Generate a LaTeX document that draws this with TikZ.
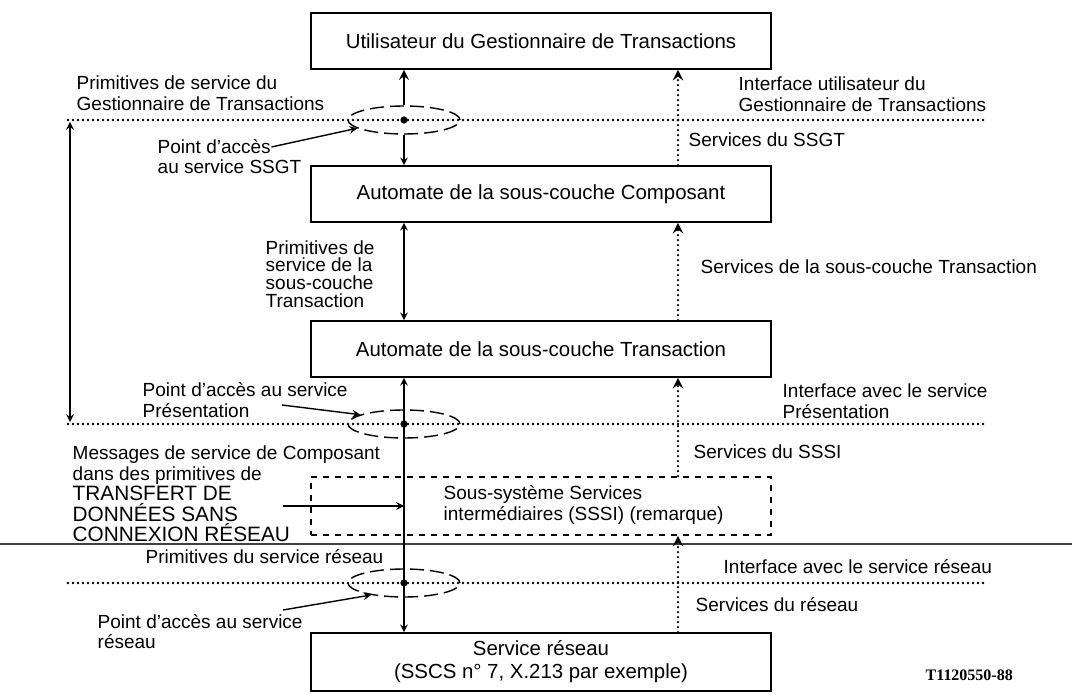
\documentclass[tikz,border=0pt]{standalone}
\usepackage{fontspec}
\setmainfont{Liberation Sans}
\newfontfamily\tagfont{Liberation Serif}
\usetikzlibrary{shapes}
\usetikzlibrary{calc}
\usepgflibrary{arrows}

\begin{document}
\begin{tikzpicture}[x=0.5pt, y=-0.5pt, >=stealth, line width=.7pt,
  layer/.style={draw, line width=.9pt, minimum width=230pt, minimum height=28pt, inner sep=0pt, align=center, font=\fontsize{10.2}{11.5}\selectfont},
  sap/.style={draw, ellipse, dash pattern=on 7pt off 3pt, minimum width=56pt, minimum height=14pt, inner sep=0pt},
  spot/.style={inner sep=.45mm, fill=black, circle},
  lbl/.style={anchor=west, inner sep=0pt, align=left, font=\fontsize{9.5}{10.3}\selectfont},
  iface/.style={line width=1.4pt, line cap=round, dash pattern=on 0pt off 2.5pt},
  svc/.style={->, line width=1.3pt, line cap=round, dash pattern=on 0pt off 2.5pt}]
\useasboundingbox (0,0) rectangle (1072,695);
\node[layer] (tgu) at (541,41) {Utilisateur du Gestionnaire de Transactions};
\node[layer] (comp) at (541,194) {Automate de la sous-couche Composant};
\node[layer] (trans) at (541,349) {Automate de la sous-couche Transaction};
\node[layer, dashed, minimum height=29pt] (sssi) at (541,506) {};
\node[layer, minimum height=29pt] (net) at (541,662) {Service réseau\\(SSCS n° 7, X.213 par exemple)};
\node[sap] (sap1) at (404,120) {};
\node[sap] (sap2) at (404,424) {};
\node[sap] (sap3) at (404,583) {};
\node[spot] (dot1) at (sap1) {};
\node[spot] (dot2) at (sap2) {};
\node[spot] (dot3) at (sap3) {};
\coordinate (i1w) at (68,120);
\coordinate (i1e) at (987,120);
\coordinate (i2w) at (68,424);
\coordinate (i2e) at (987,424);
\coordinate (i3w) at (68,583);
\coordinate (i3e) at (987,583);
\coordinate (sepw) at (0,544);
\coordinate (sepe) at (1072,544);
\coordinate (rx) at (678,0);
\coordinate (lt) at (70,122);
\coordinate (lb) at (70,422);
\draw[iface] (i1w) -- (i1e);
\draw[iface] (i2w) -- (i2e);
\draw[iface] (i3w) -- (i3e);
\draw[black!75, line width=.6pt] (sepw) -- (sepe);
\draw[<->] (lt) -- (lb);
\draw[->, line width=1.2pt] (sap1.north) -- (sap1 |- tgu.south);
\draw[->] (sap1.south) -- (sap1 |- comp.north);
\draw[<->] (sap1 |- comp.south) -- (sap1 |- trans.north);
\draw[<->] (sap2 |- trans.south) -- (sap2 |- net.north);
\draw[svc] (rx |- comp.north) -- (rx |- tgu.south);
\draw[svc] (rx |- trans.north) -- (rx |- comp.south);
\draw[svc] (rx |- sssi.north) -- (rx |- trans.south);
\draw[svc] (rx |- net.north) -- (rx |- sssi.south);
\node[lbl] (prim1) at (76,93) {Primitives de service du\\Gestionnaire de Transactions};
\node[lbl] (pt1a) at (157,147) {Point d’accès};
\node[lbl] (pt1b) at (157,167) {au service SSGT};
\draw[->] (pt1a.east) -- (sap1.190);
\node[lbl] (iface1) at (738,94) {Interface utilisateur du\\Gestionnaire de Transactions};
\node[lbl] (svc1) at (688,140) {Services du SSGT};
\node[lbl, font=\fontsize{9.5}{8.9}\selectfont] (prim2) at (265,274) {Primitives de\\service de la\\sous-couche\\Transaction};
\node[lbl] (svc2) at (700,267) {Services de la sous-couche Transaction};
\node[lbl] (pt2a) at (142,390) {Point d’accès au service};
\node[lbl] (pt2b) at (142,411) {Présentation};
\coordinate (pt2s) at (282,405);
\draw[->] (pt2s) -- (sap2.168);
\node[lbl] (iface2) at (782,401) {Interface avec le service\\Présentation};
\node[lbl] (svc3) at (693,452) {Services du SSSI};
\node[lbl] (msg) at (72,494) {Messages de service de Composant\\dans des primitives de\\{\fontsize{10.4}{10.3}\selectfont TRANSFERT DE}\\{\fontsize{10.4}{10.3}\selectfont DONNÉES SANS}\\{\fontsize{10.4}{10.3}\selectfont CONNEXION RÉSEAU}};
\coordinate (msgs) at (283,506);
\draw[->] (msgs) -- (sap2 |- sssi);
\node[lbl] (sssitxt) at (443,505) {Sous-système Services\\intermédiaires (SSSI) (remarque)};
\node[lbl] (prim3) at (145,557) {Primitives du service réseau};
\node[lbl] (iface3) at (723,567) {Interface avec le service réseau};
\node[lbl] (svc4) at (695,605) {Services du réseau};
\node[lbl] (pt3a) at (97,622) {Point d’accès au service};
\node[lbl] (pt3b) at (97,642) {réseau};
\coordinate (pt3s) at (283,610);
\draw[->] (pt3s) -- (sap3.200);
\node[anchor=west, inner sep=0pt, font=\tagfont\bfseries\fontsize{8}{9}\selectfont] (fig) at (925,675) {T1120550-88};
\end{tikzpicture}
\end{document}
